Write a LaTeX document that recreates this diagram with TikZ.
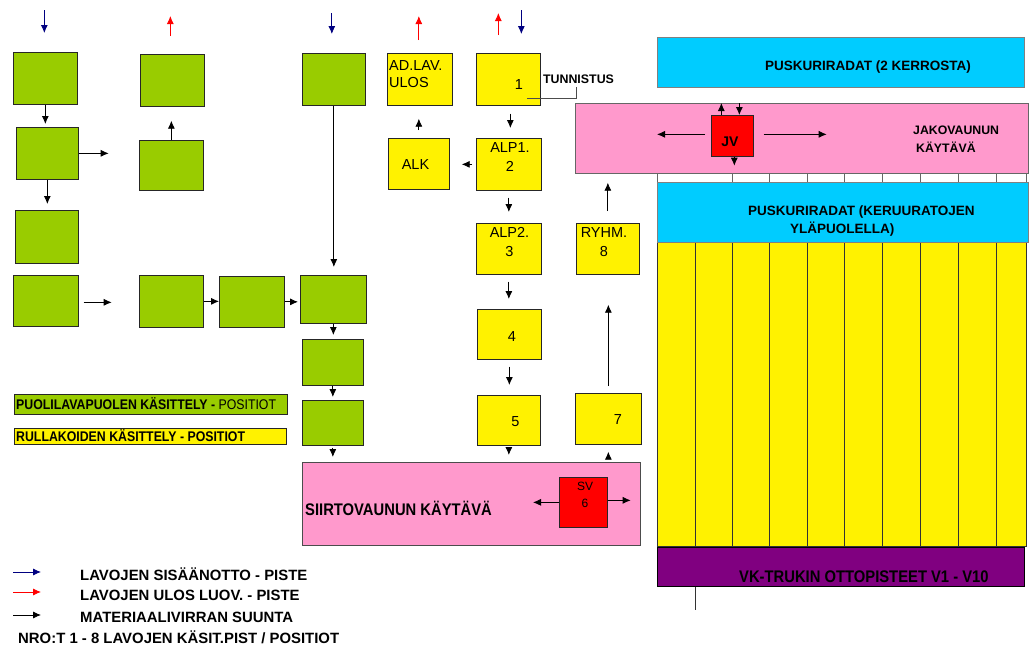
\documentclass[tikz,border=0pt]{standalone}
\usepackage{fontspec}
\setmainfont{Liberation Sans}
\newfontfamily\narrowsans{Liberation Sans}[FakeStretch=0.88]
\usetikzlibrary{shapes,arrows,arrows.meta,positioning,calc}

\definecolor{lgreen}{HTML}{99CC00}
\definecolor{pinkbg}{HTML}{FF99CC}
\definecolor{cyanbg}{HTML}{00CCFF}
\definecolor{boxred}{HTML}{FF0000}
\definecolor{purp}{HTML}{800080}
\definecolor{navyarr}{HTML}{000080}

\begin{document}
\begin{tikzpicture}[x=1pt, y=-1pt,
    box/.style={draw=black!85, line width=0.7pt, inner sep=0pt, anchor=north west},
    wh/.style 2 args={minimum width=#1pt, minimum height=#2pt},
    gbox/.style={box, fill=lgreen},
    ybox/.style={box, fill=yellow},
    flow/.style={-{Latex[length=8pt,width=7pt]}, line width=0.8pt},
    inarr/.style={flow, color=navyarr},
    outarr/.style={flow, color=red},
    ytxt/.style={inner sep=0pt, align=center, font=\fontsize{14.5}{19}\selectfont},
    btxt/.style={inner sep=0pt, font=\fontsize{#1}{18}\selectfont\bfseries},
    btxt/.default=13.5,
    ntxt/.style={inner sep=0pt, font=\narrowsans\fontsize{#1}{18}\selectfont\bfseries}]
    \useasboundingbox (0,0) rectangle (1034,649);

    % Puolilavat (green)
    \node[gbox, wh={64}{52}] (g1) at (13,52) {};
    \node[gbox, wh={62}{52}] (g2) at (16,127) {};
    \node[gbox, wh={63}{53}] (g3) at (15,210) {};
    \node[gbox, wh={65}{51}] (g4) at (13,275) {};
    \node[gbox, wh={64}{52}] (g5) at (140,54) {};
    \node[gbox, wh={64}{50}] (g6) at (139,140) {};
    \node[gbox, wh={64}{52}] (g7) at (139,275) {};
    \node[gbox, wh={65}{51}] (g8) at (219,276) {};
    \node[gbox, wh={63}{52}] (g10) at (302,53) {};
    \node[gbox, wh={66}{48}] (g9) at (300,275) {};
    \node[gbox, wh={61}{46}] (g11) at (302,339) {};
    \node[gbox, wh={61}{45}] (g12) at (302,400) {};

    % Rullakot (yellow)
    \node[ybox, wh={65}{52}] (adlav) at (387,53) {};
    \node[ybox, wh={64}{52}] (p1) at (476,53) {};
    \node[ybox, wh={61}{51}] (alk) at (388,138) {};
    \node[ybox, wh={65}{52}] (p2) at (476,138) {};
    \node[ybox, wh={65}{51}] (p3) at (476,223) {};
    \node[ybox, wh={63}{51}] (p8) at (576,223) {};
    \node[ybox, wh={64}{50}] (p4) at (477,309) {};
    \node[ybox, wh={63}{50}] (p5) at (477,395) {};
    \node[ybox, wh={66}{51}] (p7) at (575,393) {};

    \node[ytxt, align=left, anchor=west, font=\fontsize{14.5}{16.5}\selectfont] (adlavt) at (389,74) {AD.LAV.\\ULOS};
    \node[ytxt] (p1t) at (519,84.5) {1};
    \node[ytxt] (p2t) at (510,157.5) {ALP1.\\2};
    \node[ytxt] (alkt) at (415.5,165) {ALK};
    \node[ytxt] (p3t) at (509.5,242.5) {ALP2.\\3};
    \node[ytxt] (p8t) at (604,242.5) {RYHM.\\8};
    \node[ytxt] (p4t) at (512,337) {4};
    \node[ytxt] (p5t) at (515.5,422) {5};
    \node[ytxt] (p7t) at (618,420) {7};

    % Tunnistus
    \node[btxt=12.4] (tunn) at (578.5,79.5) {TUNNISTUS};
    \draw[black!70, shorten <=3pt] ([xshift=-2.5pt]tunn.south) |- ($(p1.south)+(19,-8)$);

    % Siirtovaunun kaytava
    \node[box, fill=pinkbg, draw=black!70, wh={338}{83}] (siirto) at (302,462) {};
    \node[ntxt=16.8, anchor=west] (siirtot) at (305,508) {SIIRTOVAUNUN KÄYTÄVÄ};
    \node[box, fill=boxred, wh={48}{50}] (sv) at (559,477) {};
    \node[ytxt, font=\fontsize{12}{17}\selectfont] (svt) at (585,494.5) {SV\\6};

    % Puskuriradat ja jakovaunu
    \node[box, fill=cyanbg, draw=black!50, wh={367}{50}] (pusk1) at (657,37) {};
    \node[btxt, anchor=west] (pusk1t) at (765,67) {PUSKURIRADAT (2 KERROSTA)};
    \node[box, fill=pinkbg, draw=black!60, wh={453}{70}] (jako) at (575,103) {};
    \node[btxt=12.3, align=left, anchor=west] (jakot) at (913,139) {JAKOVAUNUN\\\hspace*{3pt}KÄYTÄVÄ};
    \node[box, fill=boxred, wh={42}{41}] (jv) at (711,115) {};
    \node[btxt=14] (jvt) at (730,142) {JV};
    \foreach \x in {657,732,769,807,844,882,920,958,996,1026}
        \draw[black!60] (\x,173) -- (\x,182);

    % Keruuradat
    \draw[fill=yellow, draw=black!80] (657,242) rectangle (1026,546);
    \foreach \x in {695,732,769,807,844,882,920,958,996}
        \draw[black!80] (\x,242) -- (\x,546);
    \node[box, fill=cyanbg, draw=black!50, wh={371}{60}] (pusk2) at (657,182) {};
    \node[btxt, align=left, anchor=west] (pusk2t) at (748,221) {PUSKURIRADAT (KERUURATOJEN\\\hspace*{42pt}YLÄPUOLELLA)};
    \node[box, fill=purp, draw=black, wh={367}{39}] (vk) at (657,547) {};
    \node[ntxt=16.8, anchor=west] (vkt) at (739,577) {VK-TRUKIN OTTOPISTEET V1 - V10};
    \draw[black!80] (vk.south west) ++(38,0) -- ++(0,23);

    % Sisaanotto / ulos
    \draw[inarr] (g1.north) ++(-1,-42) -- ++(0,23);
    \draw[outarr] (g5.north) ++(-2,-18) -- ++(0,-20);
    \draw[inarr] (g10.north) ++(-2,-40) -- ++(0,21);
    \draw[outarr] (adlav.north) ++(-1,-13) -- ++(0,-24);
    \draw[outarr] (p1.north) ++(-10,-18) -- ++(0,-22);
    \draw[inarr] (p1.north) ++(13,-43) -- ++(0,24);

    % Materiaalivirta
    \draw[flow, shorten >=3pt] (g1.south) -- (g1.south |- g2.north);
    \draw[flow] (g2.east) -- ++(30,0);
    \draw[flow, shorten >=6pt] (g2.south) -- (g2.south |- g3.north);
    \draw[flow, shorten >=14pt] (g6.north) -- (g6.north |- g5.south);
    \draw[flow, shorten >=8pt] (g10.south) -- (g10.south |- g9.north);
    \draw[flow] (g4.east) ++(5,1.5) -- ++(28,0);
    \draw[flow] (g7.east) -- (g7.east -| g8.west);
    \draw[flow, shorten >=2pt] (g8.east) -- (g8.east -| g9.west);
    \draw[flow, shorten >=4pt] (g9.south) -- (g9.south |- g11.north);
    \draw[flow, shorten >=3pt] (g11.south) -- (g11.south |- g12.north);
    \draw[flow, shorten <=2pt, shorten >=5pt] (g12.south) -- (g12.south |- siirto.north);

    \draw[flow, shorten <=8pt, shorten >=10pt] ([xshift=2pt]p1.south) -- ([xshift=2pt]p1.south |- p2.north);
    \draw[flow, shorten <=4pt, shorten >=12pt] (p2.west) -- (p2.west -| alk.east);
    \draw[flow, shorten <=8pt, shorten >=13pt] (alk.north) -- (alk.north |- adlav.south);
    \draw[flow, shorten <=7pt, shorten >=11pt] (p2.south) -- (p2.south |- p3.north);
    \draw[flow, shorten <=7pt, shorten >=10pt] (p3.south) -- (p3.south |- p4.north);
    \draw[flow, shorten <=7pt, shorten >=10pt] (p4.south) -- (p4.south |- p5.north);
    \draw[flow, shorten <=3pt, shorten >=7pt] (p5.south) -- (p5.south |- siirto.north);
    \draw[flow, shorten <=4pt, shorten >=7pt] (p7.south |- siirto.north) -- (p7.south);
    \draw[flow, shorten <=7pt, shorten >=30pt] (p7.north) -- (p7.north |- p8.south);
    \draw[flow, shorten <=12pt, shorten >=9pt] (p8.north) -- (p8.north |- jako.south);

    % Vaunujen liikkeet
    \draw[flow] (sv.west) -- ++(-26,0);
    \draw[flow] ([yshift=2pt]sv.east) -- ++(23,0);
    \draw[flow] ([xshift=-11pt]jv.north) -- ++(0,-12);
    \draw[flow] ([xshift=7pt]jv.north) ++(0,-12) -- ++(0,12);
    \draw[flow] ([xshift=2pt]jv.south) -- ++(0,9);
    \draw[flow] ([yshift=1.5pt]jv.west) ++(-6,0) -- ++(-48,0);
    \draw[flow] ([yshift=1.5pt]jv.east) ++(10,0) -- ++(63,0);

    % Selitteet
    \node[box, fill=lgreen, wh={273}{20}] (leg1) at (14,394) {};
    \node[ntxt=14, anchor=west] (leg1t) at (16,404) {PUOLILAVAPUOLEN KÄSITTELY - {\mdseries POSITIOT}};
    \node[box, fill=yellow, wh={272}{16}] (leg2) at (14,428) {};
    \node[ntxt=14, anchor=west] (leg2t) at (16,436) {RULLAKOIDEN KÄSITTELY - POSITIOT};

    \node[btxt=14.9, anchor=west] (ls1) at (80,574) {LAVOJEN SISÄÄNOTTO - PISTE};
    \node[btxt=14.9, anchor=west] (ls2) at (80,595) {LAVOJEN ULOS LUOV. - PISTE};
    \node[btxt=14.9, anchor=west] (ls3) at (80,617) {MATERIAALIVIRRAN SUUNTA};
    \node[btxt=14.9, anchor=west] (ls4) at (18,637) {NRO:T 1 - 8 LAVOJEN KÄSIT.PIST / POSITIOT};
    \draw[inarr] (ls1.west) ++(-67,-2) -- ++(28,0);
    \draw[outarr] (ls2.west) ++(-67,-3) -- ++(28,0);
    \draw[flow] (ls3.west) ++(-67,-2) -- ++(28,0);
\end{tikzpicture}
\end{document}
